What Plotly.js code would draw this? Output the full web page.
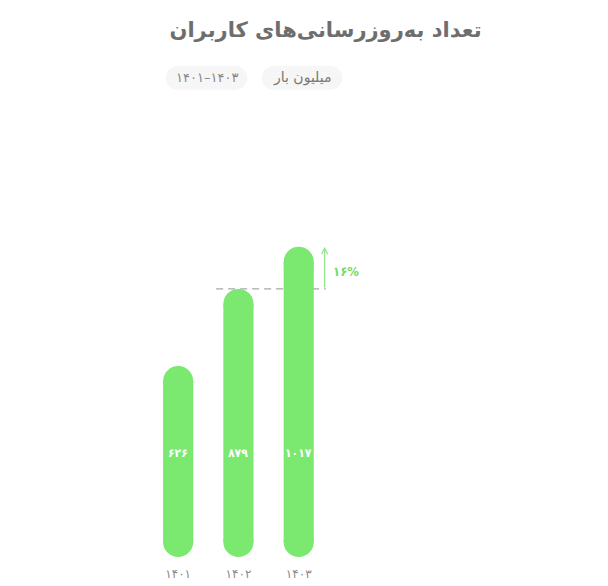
<!DOCTYPE html>
<html>
<head>
<meta charset="utf-8">
<script src="https://cdn.plot.ly/plotly-3.0.1.min.js"></script>
<style>
  html, body { margin: 0; padding: 0; background: #fff; }
  #chart { width: 608px; height: 586px; }
</style>
</head>
<body>
<div id="chart"></div>
<script>
// داده‌ها
var years = ["۱۴۰۱", "۱۴۰۲", "۱۴۰۳"];
var updates = [626, 879, 1017];
var titleText = "تعداد به‌روزرسانی‌های کاربران";
var unitText = "میلیون بار";

(function () {
  var W = 608, H = 586;
  var M = { l: 148, r: 38, t: 191, b: 29 };
  var plotW = W - M.l - M.r, plotH = H - M.t - M.b;
  var xSpan = 7, yMax = 1200;
  var barW = 0.5;
  var barPx = barW * plotW / xSpan;
  var green = "#7be870";
  var font = "DejaVu Sans, Noto Sans, sans-serif";
  var fontC = "DejaVu Sans Condensed, DejaVu Sans, sans-serif";

  function fa(n) {
    return String(n).replace(/\d/g, function (d) {
      return "۰۱۲۳۴۵۶۷۸۹"[+d];
    });
  }

  // پیکسل -> مختصات paper
  function px(x) { return (x - M.l) / plotW; }
  function py(y) { return (H - M.b - y) / plotH; }
  function pill(x0, y0, x1, y1) {
    var r = (y1 - y0) / 2, k = r * 0.55;
    function p(x, y) { return px(x) + "," + py(y); }
    return "M" + p(x0 + r, y0) + " L" + p(x1 - r, y0) +
      " C" + p(x1 - r + k, y0) + " " + p(x1, y0 + r - k) + " " + p(x1, y0 + r) +
      " C" + p(x1, y1 - r + k) + " " + p(x1 - r + k, y1) + " " + p(x1 - r, y1) +
      " L" + p(x0 + r, y1) +
      " C" + p(x0 + r - k, y1) + " " + p(x0, y1 - r + k) + " " + p(x0, y0 + r) +
      " C" + p(x0, y0 + r - k) + " " + p(x0 + r - k, y0) + " " + p(x0 + r, y0) + " Z";
  }

  var xs = years.map(function (_, i) { return i; });
  var cap = (barPx / 2) * yMax / plotH; // شعاع سر میله به واحد داده

  // بدنه میله بین دو سر گرد
  var body = {
    type: "bar", x: xs, base: xs.map(function () { return cap; }),
    y: updates.map(function (v) { return v - 2 * cap; }),
    width: barW, marker: { color: green, line: { width: 0 } },
    hoverinfo: "skip"
  };
  // سرهای گرد بالا و پایین
  var capX = [], capY = [];
  updates.forEach(function (v, i) {
    capX.push(i, i);
    capY.push(cap, v - cap);
  });
  var caps = {
    type: "scatter", mode: "markers", x: capX, y: capY, cliponaxis: false,
    marker: { symbol: "circle", size: barPx, color: green, line: { width: 0 } },
    hoverinfo: "skip"
  };

  var growth = Math.round((updates[2] - updates[1]) / updates[1] * 100);

  var annotations = updates.map(function (v, i) {
    return {
      x: i, y: 340, xref: "x", yref: "y", text: "<b>" + fa(v) + "</b>",
      showarrow: false, font: { family: fontC, size: 12, color: "#ffffff" }
    };
  });
  annotations.push({
    x: 2.43, y: updates[2], xref: "x", yref: "y",
    ax: 2.43, ay: updates[1], axref: "x", ayref: "y",
    text: "", showarrow: true, arrowhead: 5, arrowsize: 1, arrowwidth: 1.2,
    arrowcolor: "#8ee88a", standoff: 0
  });
  annotations.push({
    x: 2.78, y: (updates[1] + updates[2]) / 2 - 12, xref: "x", yref: "y",
    text: "<b>" + fa(growth) + "%</b>", showarrow: false,
    font: { family: fontC, size: 13, color: "#6fdc68" }
  });
  annotations.push({
    x: px(302), y: py(77.5), xref: "paper", yref: "paper", text: unitText,
    xanchor: "center", yanchor: "middle",
    showarrow: false, font: { family: font, size: 14, color: "#777" }
  });
  annotations.push({
    x: px(206.5), y: py(77.5), xref: "paper", yref: "paper",
    text: years[0] + "–" + years[2], xanchor: "center", yanchor: "middle",
    showarrow: false, font: { family: font, size: 13, color: "#888" }
  });

  var shapes = [
    { type: "path", xref: "paper", yref: "paper", path: pill(165.7, 66, 247.3, 89.7),
      fillcolor: "#f6f6f6", line: { width: 0 }, layer: "below" },
    { type: "path", xref: "paper", yref: "paper", path: pill(261.7, 66, 342.3, 89.7),
      fillcolor: "#f6f6f6", line: { width: 0 }, layer: "below" },
    { type: "line", xref: "x", yref: "y", x0: 0.63, x1: 2.45, y0: updates[1], y1: updates[1],
      line: { color: "#a8a8a8", width: 1.2, dash: "7px,5px" }, layer: "below" }
  ];

  var layout = {
    width: W, height: H,
    margin: M,
    paper_bgcolor: "#ffffff", plot_bgcolor: "#ffffff",
    showlegend: false, barmode: "overlay",
    title: {
      text: "<b>" + titleText + "</b>",
      xref: "paper", x: px(325.5), xanchor: "center",
      yref: "container", y: 1 - 30 / H, yanchor: "middle",
      font: { family: font, size: 21, color: "#6e6e6e" }
    },
    xaxis: {
      range: [-0.5, xSpan - 0.5], tickvals: xs, ticktext: years,
      showgrid: false, zeroline: false, showline: false, ticks: "",
      ticklabelstandoff: 8,
      tickfont: { family: font, size: 12, color: "#8a8a8a" }, fixedrange: true
    },
    yaxis: {
      range: [0, yMax], visible: false, showgrid: false, zeroline: false, fixedrange: true
    },
    annotations: annotations,
    shapes: shapes
  };

  Plotly.newPlot("chart", [body, caps], layout, { displayModeBar: false, staticPlot: true });
})();
</script>
</body>
</html>
